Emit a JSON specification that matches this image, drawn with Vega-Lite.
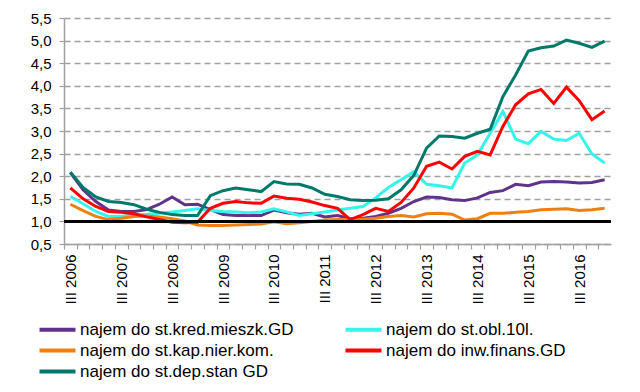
{
  "$schema": "https://vega.github.io/schema/vega-lite/v6.json",
  "width": 547,
  "height": 226,
  "autosize": {"type": "none"},
  "padding": {"left": 64, "top": 18, "right": 29, "bottom": 148},
  "background": "white",
  "config": {
    "font": "Liberation Sans",
    "view": {"stroke": null},
    "axis": {"labelFont": "Liberation Sans", "labelColor": "#000000", "domainColor": "#a0a0a0", "tickColor": "#a0a0a0", "domainWidth": 1.5, "tickWidth": 1.2, "labelOverlap": false},
    "axisY": {"labelOverlap": false},
    "legend": {"labelFont": "Liberation Sans"}
  },
  "datasets": {
    "d": [
      {"q":"III 2006","kred":2.08,"obl":1.55,"kap":1.38,"inw":1.74,"dep":2.09},
      {"q":"IV 2006","kred":1.70,"obl":1.39,"kap":1.24,"inw":1.50,"dep":1.75},
      {"q":"I 2007","kred":1.44,"obl":1.22,"kap":1.11,"inw":1.33,"dep":1.54},
      {"q":"II 2007","kred":1.25,"obl":1.11,"kap":1.04,"inw":1.22,"dep":1.44},
      {"q":"III 2007","kred":1.22,"obl":1.11,"kap":1.07,"inw":1.20,"dep":1.42},
      {"q":"IV 2007","kred":1.22,"obl":1.15,"kap":1.11,"inw":1.17,"dep":1.37},
      {"q":"I 2008","kred":1.26,"obl":1.16,"kap":1.12,"inw":1.10,"dep":1.27},
      {"q":"II 2008","kred":1.38,"obl":1.18,"kap":1.10,"inw":1.04,"dep":1.20},
      {"q":"III 2008","kred":1.54,"obl":1.21,"kap":1.06,"inw":0.98,"dep":1.15},
      {"q":"IV 2008","kred":1.37,"obl":1.24,"kap":1.01,"inw":0.97,"dep":1.13},
      {"q":"I 2009","kred":1.38,"obl":1.28,"kap":0.92,"inw":0.98,"dep":1.13},
      {"q":"II 2009","kred":1.26,"obl":1.24,"kap":0.91,"inw":1.29,"dep":1.57},
      {"q":"III 2009","kred":1.15,"obl":1.22,"kap":0.91,"inw":1.40,"dep":1.68},
      {"q":"IV 2009","kred":1.13,"obl":1.21,"kap":0.92,"inw":1.44,"dep":1.74},
      {"q":"I 2010","kred":1.13,"obl":1.19,"kap":0.93,"inw":1.41,"dep":1.70},
      {"q":"II 2010","kred":1.13,"obl":1.21,"kap":0.94,"inw":1.40,"dep":1.66},
      {"q":"III 2010","kred":1.25,"obl":1.28,"kap":0.99,"inw":1.56,"dep":1.88},
      {"q":"IV 2010","kred":1.19,"obl":1.21,"kap":0.95,"inw":1.51,"dep":1.83},
      {"q":"I 2011","kred":1.16,"obl":1.13,"kap":0.97,"inw":1.49,"dep":1.82},
      {"q":"II 2011","kred":1.18,"obl":1.17,"kap":1.00,"inw":1.43,"dep":1.74},
      {"q":"III 2011","kred":1.10,"obl":1.21,"kap":1.03,"inw":1.35,"dep":1.60},
      {"q":"IV 2011","kred":1.13,"obl":1.25,"kap":1.04,"inw":1.29,"dep":1.55},
      {"q":"I 2012","kred":1.06,"obl":1.29,"kap":1.05,"inw":1.04,"dep":1.48},
      {"q":"II 2012","kred":1.07,"obl":1.33,"kap":1.05,"inw":1.15,"dep":1.46},
      {"q":"III 2012","kred":1.11,"obl":1.52,"kap":1.07,"inw":1.29,"dep":1.47},
      {"q":"IV 2012","kred":1.18,"obl":1.75,"kap":1.11,"inw":1.22,"dep":1.50},
      {"q":"I 2013","kred":1.29,"obl":1.92,"kap":1.13,"inw":1.42,"dep":1.70},
      {"q":"II 2013","kred":1.44,"obl":2.10,"kap":1.10,"inw":1.74,"dep":2.02},
      {"q":"III 2013","kred":1.54,"obl":1.82,"kap":1.17,"inw":2.22,"dep":2.62},
      {"q":"IV 2013","kred":1.53,"obl":1.79,"kap":1.18,"inw":2.31,"dep":2.89},
      {"q":"I 2014","kred":1.48,"obl":1.74,"kap":1.16,"inw":2.16,"dep":2.88},
      {"q":"II 2014","kred":1.46,"obl":2.29,"kap":1.03,"inw":2.44,"dep":2.84},
      {"q":"III 2014","kred":1.52,"obl":2.47,"kap":1.06,"inw":2.55,"dep":2.95},
      {"q":"IV 2014","kred":1.64,"obl":2.95,"kap":1.18,"inw":2.47,"dep":3.04},
      {"q":"I 2015","kred":1.68,"obl":3.43,"kap":1.18,"inw":3.10,"dep":3.76},
      {"q":"II 2015","kred":1.82,"obl":2.82,"kap":1.20,"inw":3.58,"dep":4.24},
      {"q":"III 2015","kred":1.79,"obl":2.72,"kap":1.22,"inw":3.82,"dep":4.77},
      {"q":"IV 2015","kred":1.87,"obl":2.99,"kap":1.26,"inw":3.92,"dep":4.84},
      {"q":"I 2016","kred":1.88,"obl":2.82,"kap":1.27,"inw":3.61,"dep":4.88},
      {"q":"II 2016","kred":1.87,"obl":2.79,"kap":1.28,"inw":3.97,"dep":5.01},
      {"q":"III 2016","kred":1.85,"obl":2.95,"kap":1.24,"inw":3.67,"dep":4.94},
      {"q":"IV 2016","kred":1.86,"obl":2.49,"kap":1.26,"inw":3.25,"dep":4.85},
      {"q":"I 2017","kred":1.92,"obl":2.29,"kap":1.29,"inw":3.44,"dep":4.99}
    ],
    "names": [
      {"key":"kred","name":"najem do st.kred.mieszk.GD"},
      {"key":"obl","name":"najem do st.obl.10l."},
      {"key":"kap","name":"najem do st.kap.nier.kom."},
      {"key":"inw","name":"najem do inw.finans.GD"},
      {"key":"dep","name":"najem do st.dep.stan GD"}
    ]
  },
  "encoding": {
    "y": {
      "field": "v", "type": "quantitative",
      "scale": {"domain": [0.5, 5.5], "nice": false, "zero": false},
      "axis": {
        "title": null, "values": [0.5,1,1.5,2,2.5,3,3.5,4,4.5,5,5.5],
        "labelExpr": "replace(format(datum.value, '.1f'), '.', ',')",
        "labelOverlap": false, "labelFontSize": 15, "tickSize": 5, "labelPadding": 8,
        "grid": true, "gridColor": "#a0a0a0", "gridDash": [6, 4], "gridWidth": 1.5
      }
    }
  },
  "layer": [
    {
      "data": {"name": "d"},
      "transform": [
        {"fold": ["kred","obl","kap","inw","dep"], "as": ["key","v"]},
        {"lookup": "key", "from": {"data": {"name": "names"}, "key": "key", "fields": ["name"]}}
      ],
      "mark": {"type": "line", "strokeWidth": 3, "strokeJoin": "miter", "strokeCap": "butt"},
      "encoding": {
        "x": {
          "field": "q", "type": "ordinal", "sort": null,
          "scale": {"type": "point", "padding": 0.5},
          "axis": {
            "title": null, "grid": false, "labelAngle": -90, "labelFontSize": 15,
            "tickSize": 5, "tickOffset": -6.36, "labelOffset": 6.36, "labelPadding": 5,
            "labelExpr": "indexof(datum.label, 'III') == 0 ? datum.label : ''"
          }
        },
        "color": {
          "field": "name", "type": "nominal",
          "scale": {
            "domain": ["najem do st.kred.mieszk.GD","najem do st.kap.nier.kom.","najem do st.dep.stan GD","najem do st.obl.10l.","najem do inw.finans.GD"],
            "range": ["#60338A","#F07F12","#00796A","#33F5EA","#FF0000"]
          },
          "legend": {
            "title": null, "orient": "none", "legendX": -15, "legendY": 303,
            "columns": 2, "columnPadding": 43, "rowPadding": 3, "labelLimit": 0,
            "symbolType": "M-3,0H3", "symbolStrokeWidth": 4, "symbolSize": 144,
            "labelFontSize": 17, "labelColor": "#000000", "labelOffset": 14
          }
        }
      }
    },
    {
      "data": {"values": [{"v": 1}]},
      "mark": {"type": "rule", "color": "#000000", "strokeWidth": 3}
    }
  ]
}
